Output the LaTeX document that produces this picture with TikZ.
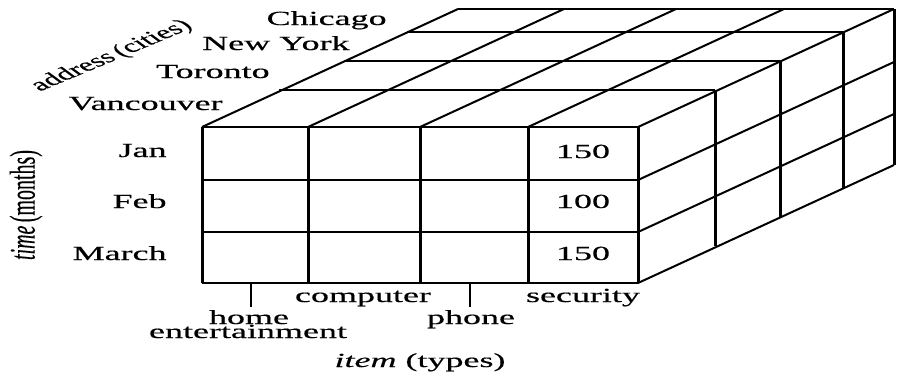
\documentclass[tikz,border=0pt]{standalone}
\usepackage{fontspec}
\setmainfont{Liberation Serif}
\newfontfamily\widefont[FakeStretch=1.8,FakeBold=0.5]{Liberation Serif}
\newfontfamily\axisfont[FakeBold=0.3]{Liberation Serif}
\usetikzlibrary{positioning}

\begin{document}
\begin{tikzpicture}[
  x=0.5pt, y=-0.5pt,
  cell/.style={line width=1pt},
  post/.style={line width=1.5pt},
  tick/.style={line width=1pt},
  lbl/.style={font=\widefont, inner sep=0pt},
  axis/.style={font=\axisfont, inner sep=0pt, transform shape}
]
\useasboundingbox (0,0) rectangle (903,376);
% front face
\foreach \y in {127,180,232,283}{\draw[cell] (202,\y) -- (638,\y);}
\foreach \x in {202,308,420,528,638}{\draw[post] (\x,127) -- (\x,283);}
% top face
\foreach \dx/\dy in {77/-37,142/-66,205/-95,256/-118}{\draw[cell, shift={(\dx,\dy)}] (202,127) -- (638,127);}
\foreach \x in {202,308,420,528,638}{\draw[cell] (\x,127) -- ++(256,-118);}
% right face
\foreach \dx/\dy in {77/-37,142/-66,205/-95,256/-118}{\draw[post, shift={(\dx,\dy)}] (638,127) -- (638,283);}
\foreach \y in {180,232,283}{\draw[cell] (638,\y) -- ++(256,-118);}

% address
\node[lbl, anchor=base east] (chicago) at (387,25) {Chicago};
\node[lbl, anchor=base east] (newyork) at (350,50) {New York};
\node[lbl, anchor=base east] (toronto) at (270,78) {Toronto};
\node[lbl, anchor=base east] (vancouver) at (223,110) {Vancouver};
\begin{scope}[shift={(112,56)}, xscale=1.8]
  \node[axis, rotate=37, font=\axisfont\fontsize{9}{11}\selectfont] (address) at (0,0) {address\,(cities)};
\end{scope}

% time
\node[lbl, anchor=base east] (jan) at (167,157) {Jan};
\node[lbl, anchor=base east] (feb) at (167,208) {Feb};
\node[lbl, anchor=base east] (march) at (167,260) {March};
\begin{scope}[shift={(26,205)}, xscale=1.8]
  \node[axis, rotate=90] (time) at (0,0) {\textit{time}\,(months)};
\end{scope}

% sales
\node[lbl, anchor=base] (jansec) at (583,158) {150};
\node[lbl, anchor=base] (febsec) at (583,208) {100};
\node[lbl, anchor=base] (marsec) at (583,260) {150};

% item
\node[lbl, anchor=base] (computer) at (363,302) {computer};
\node[lbl, anchor=base] (security) at (583,302) {security};
\node[lbl, anchor=base] (home) at (249,324) {home};
\node[lbl, anchor=base] (entertain) at (248,338) {entertainment};
\node[lbl, anchor=base] (phone) at (471,324) {phone};
\coordinate (hometop) at (251,283);
\coordinate (phonetop) at (470,283);
\draw[tick] (hometop) -- ++(0,24);
\draw[tick] (phonetop) -- ++(0,24);
\node[lbl, anchor=base] (item) at (420,367) {\textit{item} (types)};
\end{tikzpicture}
\end{document}
